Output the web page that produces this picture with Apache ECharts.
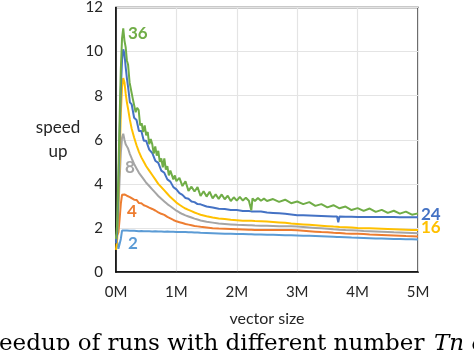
<!DOCTYPE html>
<html>
<head>
<meta charset="utf-8">
<script src="https://cdn.jsdelivr.net/npm/echarts@6/dist/echarts.min.js"></script>
<style>
html,body{margin:0;padding:0;background:#fff;}
#c{width:474px;height:350px;}
</style>
</head>
<body>
<div id="c"></div>
<script>
// x positions in millions of elements
const xs = [0, 0.02, 0.04, 0.06, 0.08, 0.1, 0.12, 0.14, 0.16, 0.18,
  0.2, 0.23, 0.26, 0.3, 0.34, 0.38, 0.42, 0.46, 0.5,
  0.55, 0.6, 0.65, 0.7, 0.75, 0.8, 0.85, 0.9, 0.95, 1.0,
  1.05, 1.1, 1.15, 1.2, 1.25, 1.3, 1.35, 1.4, 1.5, 1.6,
  1.7, 1.8, 1.9, 2.0, 2.1, 2.2, 2.24, 2.26, 2.3, 2.4,
  2.5, 2.6, 2.7, 2.8, 2.9, 3.0, 3.1, 3.2, 3.3, 3.4,
  3.5, 3.6, 3.66, 3.68, 3.7, 3.8, 3.9, 4.0, 4.1, 4.2,
  4.3, 4.4, 4.5, 4.6, 4.7, 4.8, 4.9, 5.0];

const s2 = [1.5, 1.35, 1.05, 1.0, 1.5, 1.88, 1.9, 1.88, 1.9, 1.88,
  1.88, 1.87, 1.86, 1.87, 1.86, 1.85, 1.86, 1.85, 1.85,
  1.85, 1.84, 1.85, 1.84, 1.84, 1.83, 1.84, 1.83, 1.83, 1.82,
  1.82, 1.81, 1.81, 1.8, 1.8, 1.79, 1.79, 1.78, 1.77, 1.76,
  1.75, 1.74, 1.73, 1.72, 1.72, 1.71, 1.71, 1.71, 1.7, 1.7,
  1.69, 1.69, 1.68, 1.67, 1.67, 1.66, 1.65, 1.64, 1.63, 1.62,
  1.61, 1.6, 1.59, 1.59, 1.59, 1.58, 1.56, 1.55, 1.54, 1.53,
  1.52, 1.52, 1.51, 1.5, 1.5, 1.49, 1.49, 1.48];

const s4 = [1.55, 1.6, 1.8, 2.4, 3.1, 3.5, 3.58, 3.52, 3.5, 3.46,
  3.45, 3.4, 3.4, 3.28, 3.27, 3.13, 3.12, 3.03, 2.99,
  2.92, 2.86, 2.79, 2.71, 2.64, 2.59, 2.5, 2.43, 2.36, 2.3,
  2.26, 2.22, 2.18, 2.15, 2.12, 2.09, 2.07, 2.05, 2.02, 1.99,
  1.97, 1.96, 1.95, 1.94, 1.93, 1.92, 1.92, 1.92, 1.91, 1.91,
  1.9, 1.9, 1.9, 1.9, 1.9, 1.89, 1.87, 1.85, 1.83, 1.81,
  1.8, 1.78, 1.77, 1.77, 1.77, 1.75, 1.74, 1.73, 1.72, 1.7,
  1.69, 1.68, 1.67, 1.66, 1.65, 1.63, 1.62, 1.61];

const s8 = [1.5, 1.8, 2.8, 4.2, 5.4, 6.1, 6.27, 6.0, 5.8, 5.7,
  5.6, 5.35, 5.15, 4.9, 4.7, 4.5, 4.35, 4.2, 4.05,
  3.9, 3.75, 3.6, 3.45, 3.32, 3.2, 3.08, 2.98, 2.88, 2.78,
  2.7, 2.63, 2.57, 2.52, 2.47, 2.42, 2.38, 2.34, 2.28, 2.24,
  2.2, 2.18, 2.16, 2.14, 2.13, 2.12, 2.12, 2.11, 2.11, 2.1,
  2.1, 2.09, 2.08, 2.07, 2.07, 2.06, 2.04, 2.02, 2.0, 1.98,
  1.96, 1.94, 1.93, 1.93, 1.92, 1.9, 1.89, 1.88, 1.86, 1.85,
  1.84, 1.83, 1.82, 1.8, 1.79, 1.78, 1.77, 1.76];

const s16 = [1.0, 1.5, 3.2, 5.2, 7.2, 8.4, 8.8, 8.6, 8.1, 7.7,
  7.4, 6.9, 6.5, 6.1, 5.75, 5.45, 5.2, 5.0, 4.8,
  4.6, 4.4, 4.2, 4.0, 3.85, 3.7, 3.55, 3.4, 3.28, 3.15,
  3.05, 2.96, 2.88, 2.82, 2.76, 2.7, 2.65, 2.6, 2.53, 2.47,
  2.43, 2.4, 2.37, 2.35, 2.33, 2.32, 2.32, 2.31, 2.31, 2.3,
  2.29, 2.27, 2.25, 2.23, 2.2, 2.18, 2.16, 2.14, 2.12, 2.1,
  2.08, 2.06, 2.05, 2.05, 2.04, 2.03, 2.02, 2.0, 1.99, 1.98,
  1.97, 1.96, 1.95, 1.94, 1.93, 1.92, 1.91, 1.91];

const s24 = [1.3, 1.8, 3.8, 6.2, 8.3, 9.6, 10.1, 9.9, 9.3, 8.8,
  8.4, 7.7, 7.6, 7.0, 6.9, 6.4, 6.4, 5.95, 5.95,
  5.55, 5.4, 5.05, 4.95, 4.6, 4.5, 4.2, 4.1, 3.85, 3.75,
  3.58, 3.5, 3.36, 3.32, 3.2, 3.17, 3.08, 3.07, 2.97, 2.93,
  2.87, 2.86, 2.81, 2.81, 2.77, 2.77, 2.75, 2.76, 2.74, 2.74,
  2.7, 2.68, 2.66, 2.64, 2.61, 2.58, 2.57, 2.56, 2.55, 2.54,
  2.53, 2.52, 2.52, 2.25, 2.52, 2.51, 2.51, 2.5, 2.5, 2.5,
  2.5, 2.49, 2.49, 2.49, 2.48, 2.48, 2.48, 2.48];

// the 36-thread run is noisier, so it is read at a finer x spacing
const xs36 = [0, 0.02, 0.04, 0.06, 0.08, 0.1, 0.12, 0.14, 0.16, 0.18,
  0.2, 0.225, 0.25, 0.275, 0.3, 0.325, 0.35, 0.375, 0.4, 0.425,
  0.45, 0.475, 0.5, 0.525, 0.55, 0.575, 0.6, 0.625, 0.65, 0.675,
  0.7, 0.725, 0.75, 0.775, 0.8, 0.825, 0.85, 0.875, 0.9, 0.925,
  0.95, 0.975, 1.0,
  1.05, 1.1, 1.15, 1.2, 1.25, 1.3, 1.35, 1.4, 1.45, 1.5,
  1.55, 1.6, 1.65, 1.7, 1.75, 1.8, 1.85, 1.9, 1.95, 2.0,
  2.05, 2.1, 2.15, 2.2, 2.24, 2.26, 2.3, 2.35, 2.4, 2.45, 2.5,
  2.6, 2.7, 2.8, 2.9, 3.0, 3.1, 3.2, 3.3, 3.4, 3.5,
  3.6, 3.7, 3.8, 3.9, 4.0, 4.1, 4.2, 4.3, 4.4, 4.5,
  4.6, 4.7, 4.8, 4.9, 5.0];

const s36 = [1.5, 2.2, 4.5, 7.0, 9.2, 10.6, 11.05, 10.5, 10.2, 9.6,
  9.4, 8.6, 8.65, 7.9, 7.9, 7.25, 7.45, 7.35, 6.65, 6.75,
  6.35, 6.65, 6.2, 6.35, 5.8, 6.03, 5.8, 5.37, 5.7, 5.28,
  5.5, 5.0, 5.15, 4.75, 5.15, 4.65, 4.8, 4.38, 4.6, 4.67,
  4.2, 4.38, 4.12,
  4.27, 3.9, 4.12, 3.68, 3.87, 3.65, 3.85, 3.45, 3.66, 3.42,
  3.64, 3.34, 3.52, 3.32, 3.52, 3.3, 3.46, 3.22, 3.39, 3.24,
  3.41, 3.24, 3.37, 3.23, 2.8, 3.34, 3.22, 3.36, 3.23, 3.33, 3.22,
  3.31, 3.18, 3.28, 3.12, 3.2, 3.08, 3.17, 3.0, 3.08, 2.93,
  3.03, 2.89, 2.97, 2.81, 2.9, 2.77, 2.88, 2.73, 2.82, 2.68,
  2.78, 2.65, 2.74, 2.6, 2.66];

const seriesNames = ['2', '4', '8', '16', '24', '36'];
const seriesX = [xs, xs, xs, xs, xs, xs36];
const seriesValues = [s2, s4, s8, s16, s24, s36];
const colors = ['#5B9BD5', '#ED7D31', '#A5A5A5', '#FFC000', '#4472C4', '#70AD47'];
const yTicks = [0, 2, 4, 6, 8, 10, 12];
const xTickSuffix = 'M';

const chart = echarts.init(document.getElementById('c'), null, {renderer: 'canvas'});
const txt = '#262626';
const font = 'Lato';

const series = seriesValues.map((vals, k) => ({
  name: seriesNames[k],
  type: 'line',
  showSymbol: false,
  symbol: 'none',
  animation: false,
  z: 2 + k,
  lineStyle: {color: colors[k], width: 2},
  itemStyle: {color: colors[k]},
  data: seriesX[k].map((x, i) => [x, vals[i]])
}));

chart.setOption({
  animation: false,
  backgroundColor: '#fff',
  grid: {left: 116, right: 56, top: 4, bottom: 78, show: true,
    borderColor: '#2b2b2b', borderWidth: 1.5, backgroundColor: 'transparent'},
  xAxis: {
    type: 'value', min: 0, max: 5, interval: 1,
    axisLine: {show: true, onZero: false, lineStyle: {color: '#000', width: 1.5}},
    axisTick: {show: false},
    splitLine: {show: true, lineStyle: {color: '#e4e4e4', width: 1.2}},
    axisLabel: {formatter: v => v + xTickSuffix, fontFamily: font, fontSize: 15, color: txt, margin: 13},
    name: 'vector size', nameLocation: 'middle', nameGap: 39,
    nameTextStyle: {fontFamily: font, fontSize: 16, color: txt}
  },
  yAxis: {
    type: 'value', min: yTicks[0], max: yTicks[yTicks.length - 1], interval: 2,
    axisLine: {show: true, onZero: false, lineStyle: {color: '#000', width: 1.5}},
    axisTick: {show: false},
    splitLine: {show: true, lineStyle: {color: '#e4e4e4', width: 1.2}},
    axisLabel: {fontFamily: font, fontSize: 15, color: txt, margin: 13}
  },
  graphic: [
    {type: 'text', x: 58, y: 140, style: {text: 'speed\nup', fill: txt, font: '17px Lato', align: 'center', verticalAlign: 'middle', lineHeight: 24}},
    {type: 'text', x: 128, y: 34, style: {text: '36', fill: colors[5], font: 'bold 17px Lato', verticalAlign: 'middle'}},
    {type: 'text', x: 125, y: 168, style: {text: '8', fill: colors[2], font: 'bold 17px Lato', verticalAlign: 'middle'}},
    {type: 'text', x: 127, y: 212, style: {text: '4', fill: colors[1], font: 'bold 17px Lato', verticalAlign: 'middle'}},
    {type: 'text', x: 128, y: 244, style: {text: '2', fill: colors[0], font: 'bold 17px Lato', verticalAlign: 'middle'}},
    {type: 'text', x: 421, y: 215, style: {text: '24', fill: colors[4], font: 'bold 17px Lato', verticalAlign: 'middle'}},
    {type: 'text', x: 421, y: 228, style: {text: '16', fill: colors[3], font: 'bold 17px Lato', verticalAlign: 'middle'}},
    {type: 'text', x: -1, y: 344, style: {text: 'eedup of runs with different number', fill: '#000', font: '23px "DejaVu Serif"', verticalAlign: 'middle'}},
    {type: 'text', x: 434, y: 344, style: {text: 'Tn o', fill: '#000', font: 'italic 23px "DejaVu Serif"', verticalAlign: 'middle'}}
  ],
  series: series
});
</script>
</body>
</html>
